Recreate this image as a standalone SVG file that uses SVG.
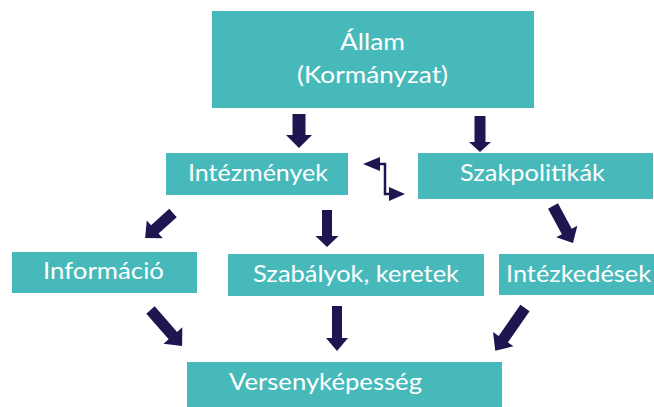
<svg xmlns="http://www.w3.org/2000/svg" width="654" height="407" viewBox="0 0 654 407">
<style>
.box{fill:#47B9BA}
.t{font-family:Lato,"Open Sans","Liberation Sans",sans-serif;font-size:23px;fill:#FFFFFF;text-anchor:middle}
.a{fill:#211551}
.ln{fill:none;stroke:#211551;stroke-width:2.5}
</style>
<rect width="654" height="407" fill="#FFFFFF"/>
<g id="allam"><rect class="box" x="212" y="11" width="322" height="97"/>
<text class="t" x="372.5" y="50" textLength="65" lengthAdjust="spacingAndGlyphs">Állam</text>
<text class="t" x="372.5" y="83" textLength="151" lengthAdjust="spacingAndGlyphs">(Kormányzat)</text></g>
<g id="intezmenyek"><rect class="box" x="166" y="153" width="182" height="42"/>
<text class="t" x="258" y="181" textLength="140" lengthAdjust="spacingAndGlyphs">Intézmények</text></g>
<g id="szakpolitikak"><rect class="box" x="418" y="153" width="235" height="46"/>
<text class="t" x="532.5" y="181" textLength="145" lengthAdjust="spacingAndGlyphs">Szakpolitikák</text></g>
<g id="informacio"><rect class="box" x="12" y="252" width="185" height="41"/>
<text class="t" x="103.5" y="279" textLength="121" lengthAdjust="spacingAndGlyphs">Információ</text></g>
<g id="szabalyok"><rect class="box" x="228" y="254" width="256" height="42"/>
<text class="t" x="356" y="282" textLength="206" lengthAdjust="spacingAndGlyphs">Szabályok, keretek</text></g>
<g id="intezkedesek"><rect class="box" x="499" y="254" width="155" height="41"/>
<text class="t" x="578.5" y="282" textLength="145" lengthAdjust="spacingAndGlyphs">Intézkedések</text></g>
<g id="versenykepesseg"><rect class="box" x="187" y="362" width="315" height="45"/>
<text class="t" x="325.5" y="390" textLength="193" lengthAdjust="spacingAndGlyphs">Versenyképesség</text></g>
<g id="connectors">
<polygon class="a" points="292.5,114 305.5,114 305.5,135 312,135 299,148 286,135 292.5,135"/>
<polygon class="a" points="474.5,116 485.5,116 485.5,142 491,142 480,152 469,142 474.5,142"/>
<polygon class="a" points="322,210 332,210 332,236 338.5,236 327,247 315.5,236 322,236"/>
<polygon class="a" points="332,306 342,306 342,338 348,338 337,351 326,338 332,338"/>
<polygon class="a" transform="translate(173,213) rotate(138)" points="0,-5.6 24.5,-5.6 24.5,-12 37.5,0 24.5,12 24.5,5.6 0,5.6"/>
<polygon class="a" transform="translate(553,206) rotate(61.6)" points="0,-5.6 29,-5.6 29,-12 42,0 29,12 29,5.6 0,5.6"/>
<polygon class="a" transform="translate(150.5,310) rotate(48.8)" points="0,-5.6 34,-5.6 34,-12.5 48,0 34,12.5 34,5.6 0,5.6"/>
<polygon class="a" transform="translate(525,308) rotate(124.9)" points="0,-5.6 38,-5.6 38,-12.5 52,0 38,12.5 38,5.6 0,5.6"/>
<polyline class="ln" points="379,164 385,164 385,194 390,194"/>
<polygon class="a" points="363,164 380,157 380,171"/>
<polygon class="a" points="405,194 389,187 389,201"/>
</g>
</svg>
